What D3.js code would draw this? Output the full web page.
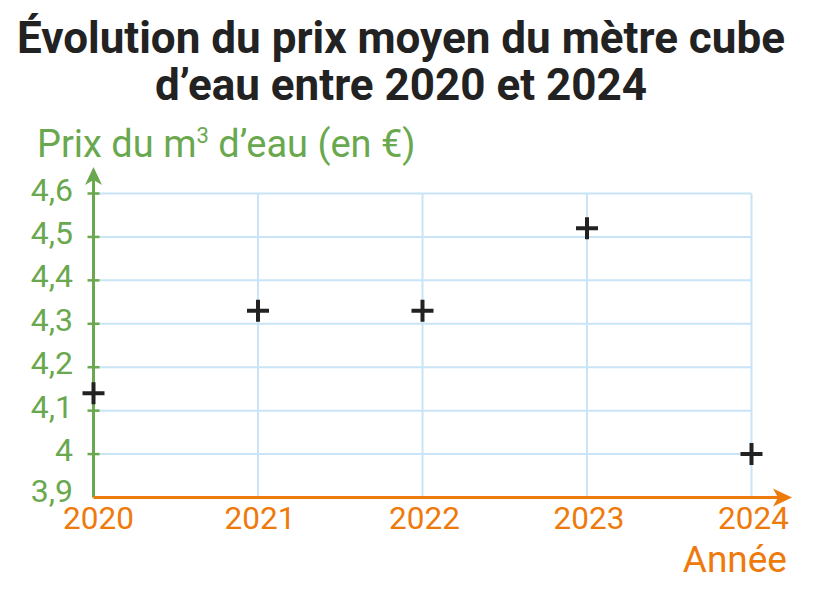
<!DOCTYPE html>
<html>
<head>
<meta charset="utf-8">
<script src="https://cdn.jsdelivr.net/npm/d3@7"></script>
<style>
  body { margin: 0; background: #fff; }
  svg { display: block; font-family: Roboto, sans-serif; }
</style>
</head>
<body>
<div id="chart"></div>
<script>
// data
const years = [2020, 2021, 2022, 2023, 2024];
const prices = [4.14, 4.33, 4.33, 4.52, 4.00];
const yTicks = [3.9, 4.0, 4.1, 4.2, 4.3, 4.4, 4.5, 4.6];
const yTickLabels = ['3,9', '4', '4,1', '4,2', '4,3', '4,4', '4,5', '4,6'];
const titleLines = ['Évolution du prix moyen du mètre cube', 'd’eau entre 2020 et 2024'];

const width = 830, height = 591;
const green = '#6aa84f', orange = '#ee7a0c', grid = '#c8e4f6', ink = '#222';

const svg = d3.select('#chart')
  .append('svg')
  .attr('width', width)
  .attr('height', height);

const x = d3.scaleLinear().domain([2020, 2024]).range([93.5, 751.5]);
const y = d3.scaleLinear().domain([3.9, 4.6]).range([497.5, 193.5]);

// title
svg.append('g')
  .selectAll('text')
  .data(titleLines)
  .enter()
    .append('text')
    .attr('x', 401)
    .attr('y', (d, i) => 53 + i * 47)
    .attr('text-anchor', 'middle')
    .attr('font-size', 44)
    .attr('font-weight', 700)
    .attr('fill', ink)
    .text(d => d);

// grid
svg.append('g')
  .selectAll('line')
  .data(yTicks.slice(1))
  .enter()
    .append('line')
    .attr('x1', x(2020))
    .attr('x2', x(2024))
    .attr('y1', d => y(d))
    .attr('y2', d => y(d))
    .style('stroke', grid)
    .style('stroke-width', 2);

svg.append('g')
  .selectAll('line')
  .data(years.slice(1))
  .enter()
    .append('line')
    .attr('x1', d => x(d))
    .attr('x2', d => x(d))
    .attr('y1', y(3.9))
    .attr('y2', y(4.6))
    .style('stroke', grid)
    .style('stroke-width', 2);

// y axis
const x0 = x(2020), y0 = y(3.9);
svg.append('line')
  .attr('x1', x0).attr('x2', x0)
  .attr('y1', y0).attr('y2', 176)
  .style('stroke', green)
  .style('stroke-width', 3);
svg.append('path')
  .attr('d', `M${x0},167 L${x0 + 8.5},185 L${x0},180 L${x0 - 8.5},185 Z`)
  .attr('fill', green);

svg.append('g')
  .selectAll('line')
  .data(yTicks.slice(1))
  .enter()
    .append('line')
    .attr('x1', x0 - 6)
    .attr('x2', x0 + 6)
    .attr('y1', d => y(d))
    .attr('y2', d => y(d))
    .style('stroke', green)
    .style('stroke-width', 2.5);

svg.append('g')
  .selectAll('text')
  .data(yTicks)
  .enter()
    .append('text')
    .attr('x', 73)
    .attr('y', (d, i) => y(d) + (i === 0 ? 4 : 7))
    .attr('text-anchor', 'end')
    .attr('font-size', 32)
    .attr('fill', green)
    .text((d, i) => yTickLabels[i]);

const yLabel = svg.append('text')
  .attr('x', 37)
  .attr('y', 157)
  .attr('font-size', 38)
  .attr('fill', green);
yLabel.append('tspan').text('Prix du m');
yLabel.append('tspan').attr('font-size', 22).attr('dy', -14).text('3');
yLabel.append('tspan').attr('dy', 14).text(' d’eau (en €)');

// x axis
svg.append('line')
  .attr('x1', x0).attr('x2', 782)
  .attr('y1', y0).attr('y2', y0)
  .style('stroke', orange)
  .style('stroke-width', 3);
svg.append('path')
  .attr('d', `M792,${y0} L773,${y0 - 9} L778,${y0} L773,${y0 + 9} Z`)
  .attr('fill', orange);

svg.append('g')
  .selectAll('text')
  .data(years)
  .enter()
    .append('text')
    .attr('x', (d, i) => x(d) + (i === 0 ? 5 : 2))
    .attr('y', 529)
    .attr('text-anchor', 'middle')
    .attr('font-size', 31.5)
    .attr('fill', orange)
    .text(d => d);

svg.append('text')
  .attr('x', 787)
  .attr('y', 572)
  .attr('text-anchor', 'end')
  .attr('font-size', 37)
  .attr('fill', orange)
  .text('Année');

// points
svg.append('g')
  .selectAll('path')
  .data(years)
  .enter()
    .append('path')
    .attr('d', (d, i) => {
      const cx = x(d), cy = y(prices[i]);
      return `M${cx - 11},${cy} H${cx + 11} M${cx},${cy - 11} V${cy + 11}`;
    })
    .style('stroke', ink)
    .style('stroke-width', 4)
    .style('fill', 'none');
</script>
</body>
</html>
